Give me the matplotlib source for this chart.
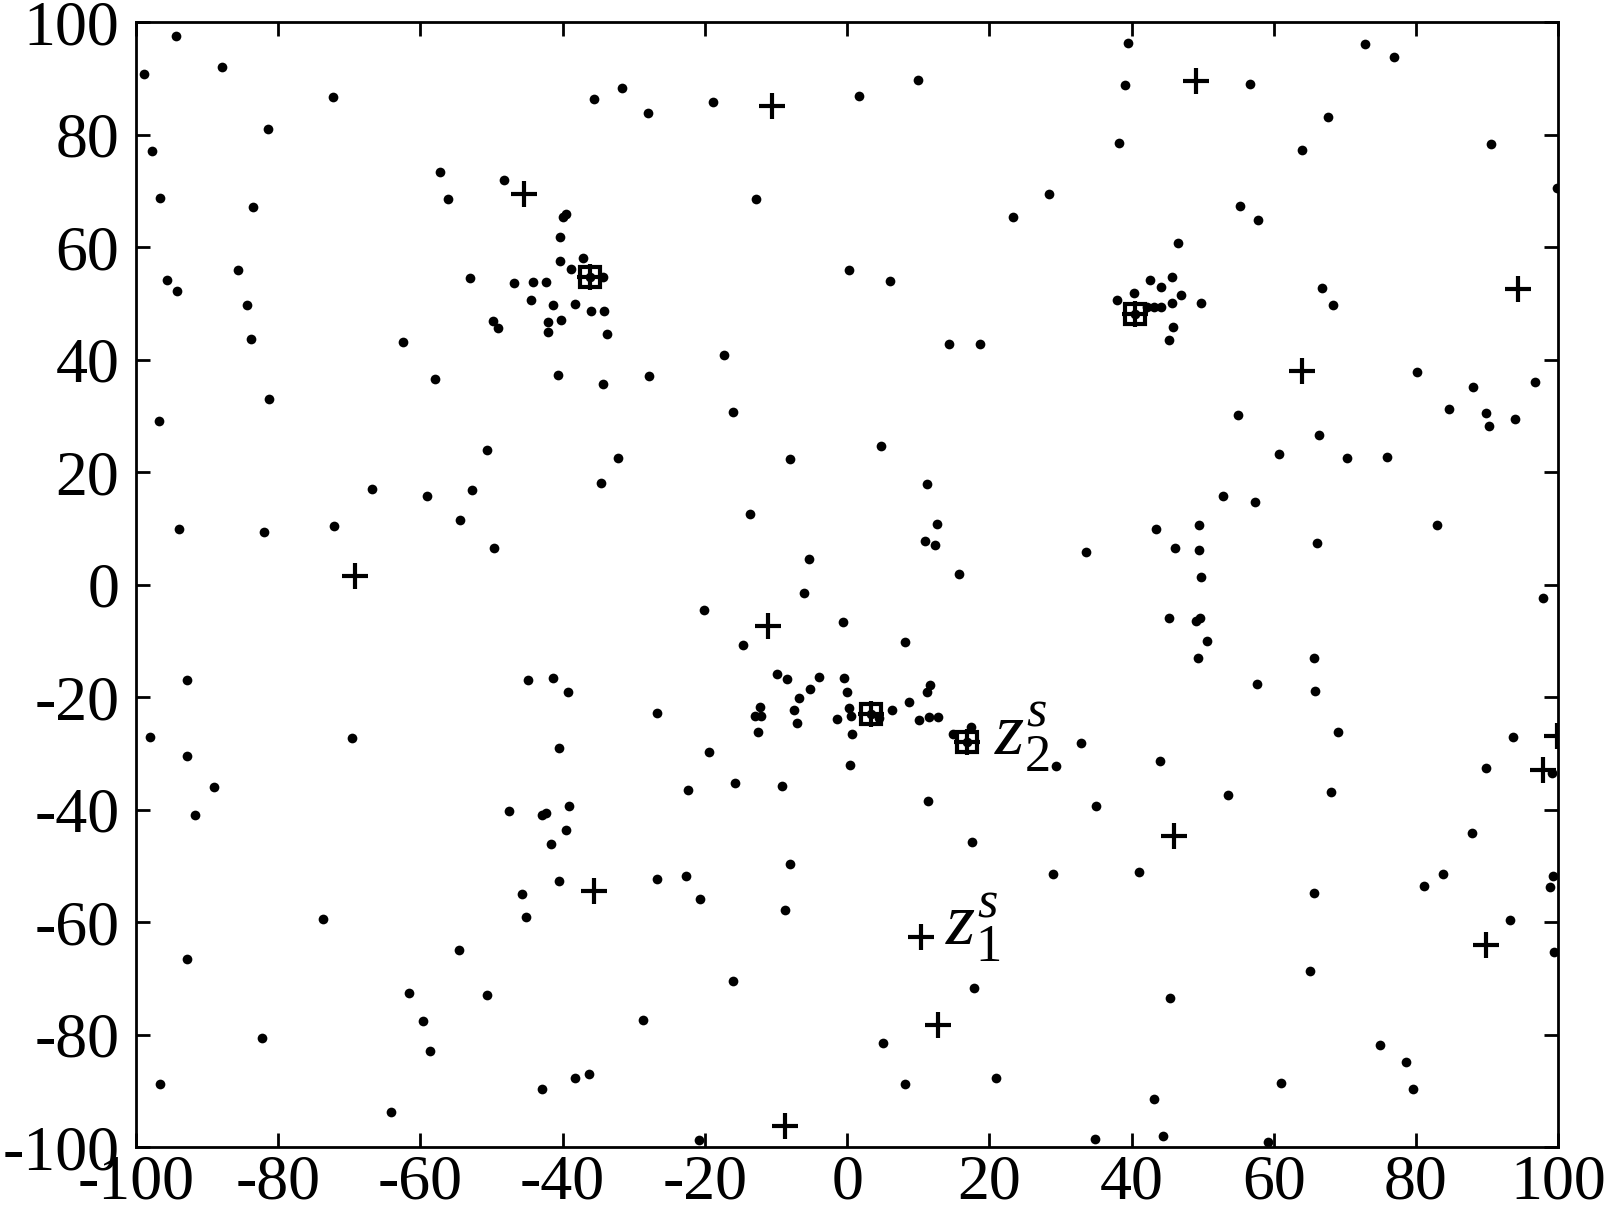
import matplotlib
matplotlib.use('Agg')
import matplotlib.pyplot as plt

plt.rcParams['font.family'] = ['Liberation Serif', 'DejaVu Serif']
plt.rcParams['axes.unicode_minus'] = False
plt.rcParams['mathtext.fontset'] = 'custom'
plt.rcParams['mathtext.rm'] = 'Liberation Serif'
plt.rcParams['mathtext.it'] = 'Liberation Serif:italic'

# sample points (dots)
dot_x = [
    -94.4, -98.9, -87.9, -72.3, -81.5, -97.8, -96.7, -83.5, -57.3, -56.1, -48.3, -40.0, -39.5,
    -40.4, -40.4, -37.2, -38.8, -36.1, -34.3, -53.1, -46.8, -44.2, -42.4, -44.4, -41.4, -38.3,
    -36.0, -34.2, -42.1, -40.2, -42.1, -33.8, -49.8, -49.1, -95.6, -94.2, -85.6, -84.4, -83.8,
    -62.5, -57.9, -81.3, -40.6, -34.4, -35.6, -31.7,
    -27.95, -18.9, 1.7, 9.9, -12.8, 23.4, 28.4, 0.2, 6.1, 14.3, 18.7, -17.3, -27.8,
    39.5, 39.1, 56.6, 72.9, 76.9, 67.7, 38.3, 64.0, 90.6, 99.9, 55.3, 57.8, 46.6, 42.6, 45.7,
    44.1, 40.35, 47.0, 38.0, 45.7, 49.8, 40.5, 42.2, 43.2, 44.2, 45.8, 45.2, 66.8, 68.3, 80.2,
    88.0, 96.8,
    -96.8, -50.7, -32.2, -34.6, -66.8, -59.1, -52.8, -54.5, -49.6, -94.0, -82.0, -72.1, -92.8,
    -44.9, -41.3, -39.3, -98.1, -69.6, -92.8, -40.5,
    -16.1, -8.0, 4.8, 11.3, -13.7, 12.7, 10.9, 12.4, 15.7, 33.6, -5.3, -6.0, -20.1, -14.7, -0.6,
    8.2, -9.8, -8.4, -4.0, -5.2, -6.8, -0.5, -0.06, 11.6, 11.3, -26.7, -12.2, -12.9, -12.1, -12.5,
    -7.4, -7.1, -1.4, 0.2, 0.55, 3.4, 4.5, 6.3, 8.7, 10.1, 11.5, 12.8, 0.7, 16.9, 14.9, 17.4,
    32.9, 29.4, -19.4, 0.4,
    55.0, 66.4, 60.7, 70.3, 75.9, 84.6, 89.9, 90.3, 93.9, 52.9, 57.3, 43.4, 49.5, 46.1, 49.5,
    82.9, 66.1, 49.8, 97.8, 45.3, 49.7, 49.1, 50.6, 49.4, 65.6, 57.7, 65.8, 69.0, 43.96, 93.7,
    89.85, 99.2,
    -89.0, -91.7, -47.5, -42.9, -42.4, -39.05, -39.6, -41.7, -40.5, -45.7, -45.2, -73.75, -92.9,
    -54.6, -61.6, -50.7, -59.7, -58.6, -82.3, -96.6, -38.2, -36.3, -42.85, -64.2,
    -22.4, -15.8, -9.15, 11.4, 17.6, 28.9, -8.0, -26.7, -22.7, -20.7, -8.7, -16.1, 17.9, -28.75,
    5.0, 8.1, 20.9, -20.8,
    35.0, 53.6, 68.0, 87.9, 41.1, 65.7, 81.1, 83.85, 99.3, 98.85, 93.2, 99.4, 65.15, 45.4, 74.9,
    78.6, 79.55, 61.0, 43.2, 34.9, 44.4, 59.2,
]
dot_y = [
    97.6, 90.9, 92.0, 86.8, 81.1, 77.1, 68.8, 67.1, 73.4, 68.6, 71.9, 65.3, 65.9,
    61.9, 57.6, 58.1, 56.1, 54.8, 54.8, 54.6, 53.7, 53.8, 53.8, 50.6, 49.8, 50.0,
    48.6, 48.7, 46.8, 47.0, 45.0, 44.5, 46.9, 45.7, 54.1, 52.2, 56.0, 49.7, 43.7,
    43.2, 36.5, 33.0, 37.3, 35.7, 86.4, 88.3,
    83.9, 85.8, 86.9, 89.7, 68.6, 65.3, 69.5, 55.9, 54.0, 42.8, 42.8, 40.8, 37.2,
    96.3, 88.8, 89.0, 96.1, 93.8, 83.1, 78.6, 77.3, 78.3, 70.5, 67.4, 64.9, 60.7, 54.1, 54.8,
    52.9, 51.8, 51.5, 50.6, 50.1, 50.1, 48.1, 49.3, 49.3, 49.3, 45.8, 43.5, 52.8, 49.7, 37.8,
    35.1, 36.0,
    29.1, 24.0, 22.5, 18.1, 17.0, 15.8, 16.9, 11.5, 6.6, 9.9, 9.4, 10.4, -16.9,
    -17.0, -16.5, -19.0, -27.1, -27.3, -30.4, -29.1,
    30.7, 22.4, 24.6, 18.0, 12.5, 10.8, 7.7, 7.1, 1.9, 5.8, 4.5, -1.5, -4.5, -10.7, -6.6,
    -10.2, -15.9, -16.8, -16.4, -18.5, -20.1, -16.6, -19.0, -17.8, -19.1, -22.8, -21.8, -23.3, -23.4, -26.1,
    -22.3, -24.5, -23.9, -21.9, -23.4, -22.9, -23.7, -22.3, -20.9, -24.0, -23.5, -23.5, -26.5, -27.9, -26.6, -25.2,
    -28.2, -32.2, -29.8, -32.0,
    30.1, 26.6, 23.2, 22.5, 22.7, 31.3, 30.5, 28.3, 29.4, 15.8, 14.8, 9.9, 10.7, 6.5, 6.1,
    10.7, 7.4, 1.3, -2.4, -5.9, -5.9, -6.4, -10.0, -13.0, -13.1, -17.7, -18.8, -26.1, -31.3, -27.1,
    -32.6, -33.5,
    -35.9, -40.9, -40.2, -40.9, -40.6, -39.3, -43.6, -46.1, -52.6, -55.0, -59.0, -59.5, -66.6,
    -65.0, -72.5, -73.0, -77.5, -82.8, -80.5, -88.7, -87.7, -86.9, -89.6, -93.8,
    -36.4, -35.3, -35.8, -38.5, -45.7, -51.4, -49.7, -52.3, -51.8, -55.9, -57.9, -70.4, -71.6, -77.4,
    -81.4, -88.8, -87.7, -98.7,
    -39.3, -37.4, -36.8, -44.2, -51.0, -54.8, -53.5, -51.4, -51.8, -53.7, -59.6, -65.2, -68.7, -73.5, -81.9,
    -84.8, -89.6, -88.6, -91.5, -98.5, -98.0, -99.0,
]

# cross markers
cross_x = [-45.4, -10.5, 49.1, 94.3, 64.0, -69.2, -11.1, 99.8, 97.9, -35.6, 46.0, 10.35, 12.8, -8.7, 89.9,
           -36.1, 40.5, 3.4, 16.9]
cross_y = [69.5, 85.2, 89.5, 52.5, 38.0, 1.6, -7.3, -26.9, -33.0, -54.4, -44.7, -62.7, -78.2, -96.2, -64.0,
           54.8, 48.1, -22.9, -27.9]

# boxed points
square_x = [-36.1, 40.5, 3.4, 16.9]
square_y = [54.8, 48.1, -22.9, -27.9]

ticks = [-100, -80, -60, -40, -20, 0, 20, 40, 60, 80, 100]

fig = plt.figure(figsize=(16.12, 12.13), dpi=100)
ax = fig.add_axes([0.0844, 0.0542, 0.8822, 0.9274])

ax.plot(dot_x, dot_y, 'o', color='black', markersize=7, markeredgewidth=0, linestyle='none')
ax.plot(cross_x, cross_y, '+', color='black', markersize=19, markeredgewidth=3.0, linestyle='none')
ax.plot(square_x, square_y, 's', color='black', markerfacecolor='none', markersize=14,
        markeredgewidth=3.0, linestyle='none')

# labels of two special points
ax.text(20.6, -30.3, r'$z_2^s$', fontsize=54, ha='left', va='baseline')
ax.text(13.8, -64.0, r'$z_1^s$', fontsize=54, ha='left', va='baseline')

ax.set_xlim(-100, 100)
ax.set_ylim(-100, 100)
ax.set_xticks(ticks)
ax.set_yticks(ticks)
ax.set_xticklabels([str(t) for t in ticks])
ax.set_yticklabels([str(t) for t in ticks])

for s in ax.spines.values():
    s.set_linewidth(2.0)
ax.tick_params(direction='in', length=10, width=2.0, top=True, right=True, labelsize=46)
ax.tick_params(axis='x', pad=5)
ax.tick_params(axis='y', pad=12)

fig.savefig('out.png', dpi=100, facecolor='white')
plt.close(fig)
